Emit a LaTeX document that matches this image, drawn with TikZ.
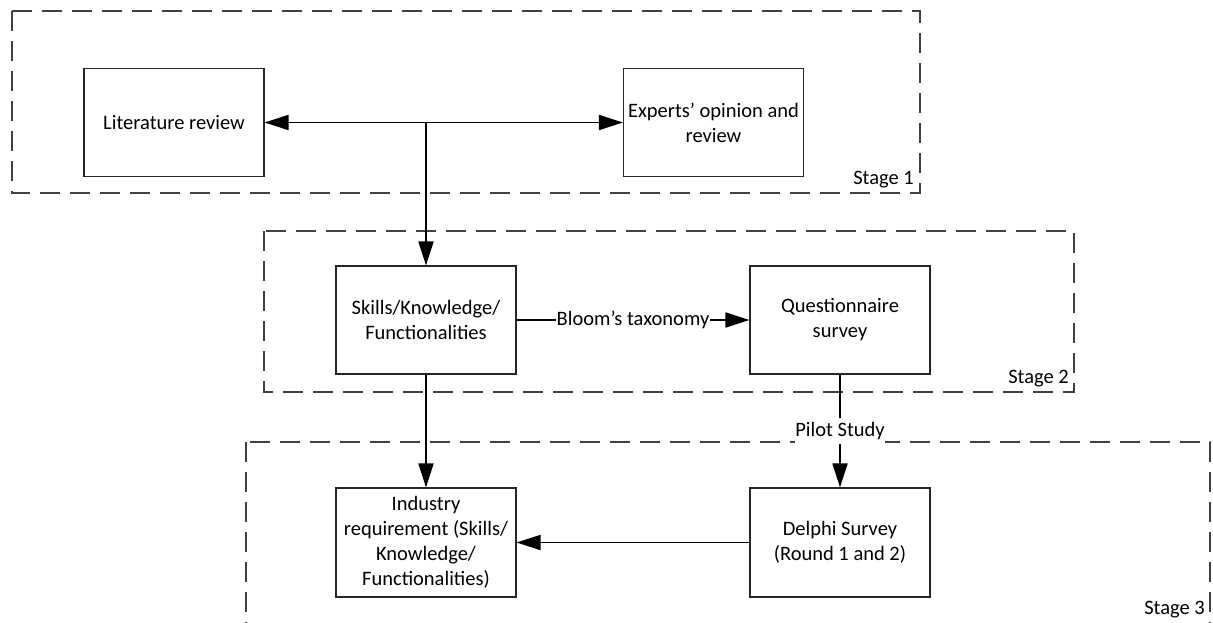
\documentclass[tikz,border=0pt]{standalone}
\usepackage{fontspec}
\setmainfont{Carlito}
\usetikzlibrary{arrows.meta,calc}
\begin{document}
\begin{tikzpicture}[x=1pt,y=-1pt,
  box/.style={draw=black!85,line width=1.1pt,minimum width=180pt,minimum height=108pt,align=center,font=\fontsize{20.5}{25}\selectfont,inner sep=2pt},
  stagebox/.style={draw=black!75,line width=1.1pt,dash pattern=on 20pt off 10pt},
  conn/.style={line width=1.8pt,-{Triangle[length=24pt,width=15pt]}},
  lbl/.style={font=\fontsize{20.5}{25}\selectfont,fill=white,inner sep=1pt},
  stagelbl/.style={font=\fontsize{20.5}{25}\selectfont,anchor=base east,inner sep=0pt}]
\useasboundingbox (0,0) rectangle (1213,623);
\clip (0,0) rectangle (1213,623);
% stage frames
\draw[stagebox] (12,11) rectangle (920,193);
\draw[stagebox] (264,231) rectangle (1074,392);
\draw[stagebox] (246,442) rectangle (1210,660);
\node[stagelbl] (s1) at (914,184) {Stage 1};
\node[stagelbl] (s2) at (1069,383) {Stage 2};
\node[stagelbl] (s3) at (1205,614) {Stage 3};
% boxes
\node[box] (lit) at (174,122.5) {Literature review};
\node[box] (exp) at (713.5,122.5) {Experts’ opinion and\\review};
\node[box] (skl) at (426,320) {Skills/Knowledge/\\Functionalities};
\node[box] (que) at (840,320) {Questionnaire\\survey};
\node[box,minimum height=109pt] (ind) at (426,542.5) {Industry\\requirement (Skills/\\Knowledge/\\Functionalities)};
\node[box,minimum height=109pt] (del) at (840,542.5) {Delphi Survey\\(Round 1 and 2)};
% connectors
\coordinate (j) at (skl.north |- lit.east);
\draw[line width=1.8pt,{Triangle[length=24pt,width=15pt]}-{Triangle[length=24pt,width=15pt]}] (lit.east) -- (exp.west);
\draw[conn] (j) -- (skl.north);
\draw[conn] (skl.east) -- node[lbl] (bl) {Bloom’s taxonomy} (que.west);
\draw[conn] (skl.south) -- (ind.north);
\node[lbl,inner sep=0pt,minimum height=26pt] (pil) at (840,431) {Pilot Study};
\draw[line width=1.8pt] (que.south) -- (pil.north);
\draw[conn] (pil.south) -- (del.north);
\draw[conn] (del.west) -- (ind.east);
\end{tikzpicture}
\end{document}
